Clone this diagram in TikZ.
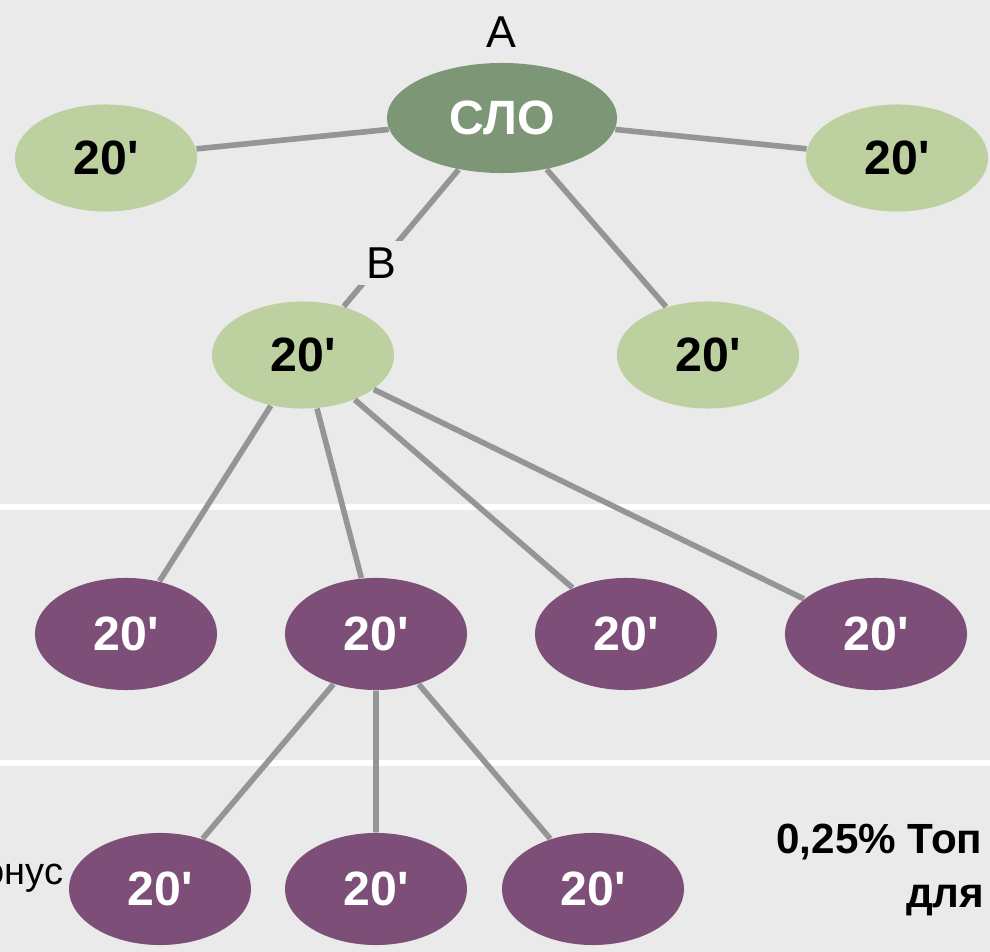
\documentclass[tikz,border=0pt]{standalone}
\usepackage{fontspec}
\setmainfont{Liberation Sans}
\usetikzlibrary{shapes.geometric}
\definecolor{bg}{HTML}{EAEAEA}
\definecolor{dkgreen}{HTML}{7D9676}
\definecolor{ltgreen}{HTML}{BDD0A0}
\definecolor{plum}{HTML}{7D4F78}
\definecolor{edge}{HTML}{959595}
\newcommand{\twenty}{20\textquotesingle}
\tikzset{
    oval/.style={ellipse, inner sep=0pt, minimum width=1.82cm, minimum height=1.07cm,
        font=\fontsize{13.7}{16}\selectfont\bfseries},
    lead/.style={oval, fill=dkgreen, text=white, minimum width=2.3cm, minimum height=1.1cm},
    light/.style={oval, fill=ltgreen, text=black},
    dark/.style={oval, fill=plum, text=white, minimum height=1.12cm},
    link/.style={draw=edge, line width=1.6pt},
    sep/.style={draw=white, line width=1.7pt}
}

\begin{document}
\begin{tikzpicture}[x=.01cm, y=-.01cm]
    \fill[bg] (0,0) rectangle (990,952);
    \useasboundingbox (0,0) rectangle (990,952);
    \draw[sep] (0,507) -- (990,507);
    \draw[sep] (0,763) -- (990,763);
    \node[lead]  (clo) at (502,118) {СЛО};
    \node[light] (tl) at (106,158) {\twenty};
    \node[light] (tr) at (897,158) {\twenty};
    \node[light] (b) at (303,355) {\twenty};
    \node[light] (mr) at (708,355) {\twenty};
    \node[dark]  (p1) at (126,634) {\twenty};
    \node[dark]  (p2) at (376,634) {\twenty};
    \node[dark]  (p3) at (626,634) {\twenty};
    \node[dark]  (p4) at (876,634) {\twenty};
    \node[dark]  (q1) at (160,889) {\twenty};
    \node[dark]  (q2) at (376,889) {\twenty};
    \node[dark]  (q3) at (593,889) {\twenty};
    \draw[link] (clo) -- (tl) (clo) -- (tr) (clo) -- (b) (clo) -- (mr);
    \draw[link] (b) -- (p1) (b) -- (p2) (b) -- (p3) (b) -- (p4);
    \draw[link] (p2) -- (q1) (p2) -- (q2) (p2) -- (q3);
    \node[font=\fontsize{12.7}{15}\selectfont] (la) at (501,32) {A};
    \node[fill=bg, inner sep=2pt, font=\fontsize{12.7}{15}\selectfont] (lb) at (381,263) {B};
    \node[anchor=base east, inner sep=0pt, font=\fontsize{10.8}{13}\selectfont] (bonus) at (64,885) {онус};
    \node[anchor=base east, inner sep=0pt, font=\fontsize{12}{15}\selectfont\bfseries] (top) at (983,854) {0,25\% Топ};
    \node[anchor=base east, inner sep=0pt, font=\fontsize{12}{15}\selectfont\bfseries] (dlya) at (985,908) {для};
\end{tikzpicture}
\end{document}
